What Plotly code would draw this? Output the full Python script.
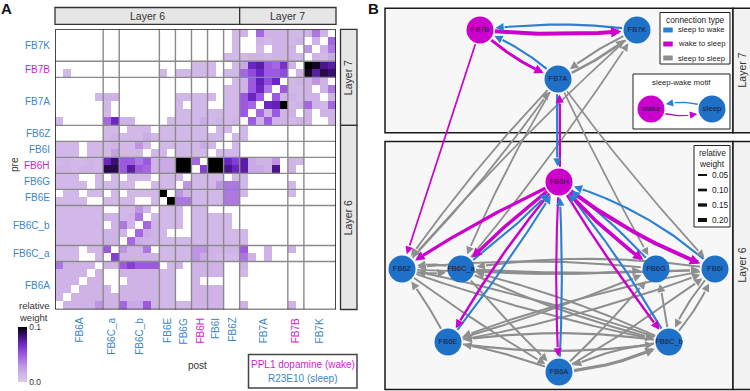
import numpy as np
import plotly.graph_objects as go

W, H = 750, 391
FONT = "Liberation Sans, Arial, sans-serif"
BLUE_TXT = "#3b87c9"
MAG_TXT = "#d11cd1"
NODE_BLUE = "#1f70c7"
NODE_MAG = "#cc00cc"
EDGE_BLUE = "#2b80d0"
EDGE_MAG = "#cc00cc"
EDGE_GRAY = "#8e8e8e"

# ---------------- data: panel A ----------------
post_groups = ["FB6A", "FB6C_a", "FB6C_b", "FB6E", "FB6G", "FB6H", "FB6I", "FB6Z", "FB7A", "FB7B", "FB7K"]
group_sizes = [6, 2, 5, 2, 2, 2, 2, 2, 6, 2, 4]
wake_types = ["FB6H", "FB7B"]
pre_groups = post_groups[::-1]
pre_sizes = group_sizes[::-1]

# relative weight x 1000 (0 = no connection); columns follow post_groups order
w_FB7K = [
    [0,0,0,0,0,0, 0,0, 0,0,0,0,0, 0,0, 0,0, 0,0, 0,0, 0,12, 15,0,45,15,15,15, 12,12, 15,40,15,0],
    [0,0,0,0,0,0, 0,0, 0,0,0,0,0, 0,0, 0,0, 0,0, 0,0, 0,12, 0,0,15,12,15,15, 12,15, 0,15,0,45],
    [0,0,0,0,0,0, 0,0, 0,0,0,0,0, 0,0, 0,0, 0,0, 0,0, 0,12, 0,0,12,0,15,15, 15,0, 30,0,15,40],
    [0,0,0,0,0,0, 0,0, 0,0,0,0,0, 0,0, 0,0, 0,0, 0,0, 12,12, 12,15,15,12,15,15, 15,12, 0,15,12,20],
]
w_FB7B = [
    [0,0,0,0,0,0, 0,0, 0,0,0,0,0, 0,0, 0,0, 12,12, 12,0, 0,12, 20,70,75,50,45,65, 15,0, 100,95,80,75],
    [0,12,0,0,0,0, 0,0, 0,0,0,0,0, 12,0, 12,12, 12,12, 12,0, 12,12, 45,55,70,50,50,55, 0,15, 95,75,90,85],
]
w_FB7A = [
    [0,0,0,0,0,0, 0,0, 0,0,0,0,0, 0,0, 0,0, 0,0, 0,0, 0,12, 15,50,72,55,70,0, 12,15, 15,30,15,0],
    [0,0,0,0,0,0, 0,0, 0,0,0,0,0, 0,0, 0,0, 0,0, 0,0, 12,12, 15,50,70,40,0,50, 12,12, 15,0,15,40],
    [0,0,0,0,0,12, 15,15, 0,0,0,0,0, 0,0, 12,12, 12,12, 12,0, 12,12, 50,70,50,0,50,15, 15,12, 15,15,0,15],
    [0,0,0,0,0,0, 12,0, 0,0,0,0,0, 0,0, 12,0, 12,12, 0,0, 12,12, 50,45,0,70,72,100, 12,15, 45,15,12,45],
    [0,0,0,0,0,0, 12,0, 0,0,0,0,0, 0,0, 12,12, 12,12, 12,12, 12,12, 50,0,45,15,50,15, 15,0, 15,0,15,15],
    [12,0,0,0,0,0, 45,70, 15,15,0,0,0, 0,12, 12,12, 12,18, 12,15, 12,15, 0,50,15,50,15,15, 12,15, 15,0,0,15],
]
w_FB6Z = [
    [0,0,0,0,0,0, 12,12, 0,12,12,12,0, 12,12, 12,12, 12,12, 0,12, 12,0, 12,0,0,0,0,0, 0,0, 0,0,0,0],
    [0,0,0,0,0,0, 12,15, 12,12,12,18,12, 12,12, 12,12, 12,12, 12,12, 0,12, 12,0,0,0,0,0, 0,0, 0,0,0,0],
]
w_FB6I = [
    [12,12,12,0,12,12, 12,15, 12,12,30,12,0, 12,12, 12,12, 12,20, 12,0, 0,12, 0,0,0,0,0,0, 0,0, 0,0,0,0],
    [12,12,12,0,12,12, 12,25, 12,12,12,0,12, 12,0, 12,12, 12,12, 0,12, 12,12, 0,0,0,0,0,0, 0,0, 0,0,0,0],
]
w_FB6H = [
    [12,15,12,12,15,12, 70,85, 50,50,40,50,15, 20,20, 100,100, 45,0, 100,100, 70,60, 75,20,15,15,30,0, 15,12, 0,0,0,0],
    [15,15,12,15,15,12, 90,90, 50,75,50,45,15, 20,20, 100,100, 0,60, 100,100, 80,70, 75,20,20,15,80,0, 15,0, 0,0,0,0],
]
w_FB6G = [
    [12,12,12,0,0,12, 0,12, 0,12,12,12,0, 12,12, 12,0, 12,12, 12,12, 0,12, 12,0,0,0,0,0, 0,0, 0,0,0,0],
    [12,12,12,12,0,12, 12,12, 12,12,0,0,12, 12,12, 0,30, 12,12, 12,30, 40,40, 12,0,0,0,0,0, 12,0, 0,0,0,0],
]
w_FB6E = [
    [0,12,12,0,12,12, 0,12, 0,12,12,12,12, 100,0, 30,15, 12,12, 12,12, 40,40, 12,0,0,0,0,0, 12,0, 0,0,0,0],
    [12,12,12,12,0,0, 12,12, 12,12,0,0,12, 0,100, 40,40, 12,12, 12,12, 40,40, 0,0,0,0,0,0, 0,0, 0,0,0,0],
]
w_FB6C_b = [
    [12,12,12,12,12,12, 0,0, 12,12,30,12,0, 12,12, 12,0, 12,12, 0,0, 0,0, 0,0,0,0,0,0, 0,0, 0,0,0,0],
    [12,12,12,12,12,12, 15,15, 12,15,40,0,12, 12,12, 12,0, 12,12, 12,12, 12,0, 0,0,0,0,0,0, 0,0, 0,0,0,0],
    [12,12,12,12,12,12, 0,15, 40,15,0,45,15, 12,12, 12,0, 12,12, 12,12, 12,0, 0,0,0,0,0,0, 0,0, 0,0,0,0],
    [12,12,12,12,12,12, 15,15, 15,0,45,18,15, 12,0, 0,0, 12,12, 12,12, 12,12, 12,0,0,0,0,0, 0,0, 0,0,0,0],
    [12,12,12,12,12,12, 15,15, 0,45,18,15,15, 12,12, 12,12, 12,12, 12,12, 12,12, 12,0,0,0,0,0, 0,0, 0,0,0,0],
]
w_FB6C_a = [
    [12,12,12,0,12,12, 50,0, 30,15,15,40,0, 12,12, 12,12, 30,30, 15,15, 15,15, 50,0,0,15,0,0, 15,0, 0,0,0,0],
    [12,12,12,0,0,12, 0,60, 15,15,15,15,15, 12,12, 12,12, 30,20, 15,12, 12,12, 40,15,0,15,0,0, 0,0, 0,0,0,0],
]
w_FB6A = [
    [40,15,15,15,15,0, 15,15, 50,60,50,50,50, 0,12, 15,0, 15,15, 15,15, 0,0, 15,0,0,0,0,0, 0,0, 0,0,0,0],
    [15,15,15,15,0,15, 0,0, 15,15,15,15,15, 12,12, 0,0, 15,15, 15,15, 0,0, 12,0,0,0,0,0, 0,0, 0,0,0,0],
    [15,15,15,0,15,15, 0,0, 0,15,15,15,15, 12,12, 0,0, 15,0, 0,0, 0,0, 0,0,0,0,0,0, 0,0, 0,0,0,0],
    [15,15,0,15,15,15, 15,0, 15,15,15,15,15, 12,12, 0,0, 15,15, 15,15, 0,0, 0,0,0,0,0,0, 0,0, 0,0,0,0],
    [15,0,15,15,15,15, 15,15, 15,15,15,15,15, 12,12, 0,0, 15,15, 15,15, 0,0, 0,0,0,0,0,0, 0,0, 0,0,0,0],
    [0,15,15,15,15,30, 15,15, 45,20,20,50,15, 12,12, 12,12, 15,15, 15,15, 0,0, 15,0,0,0,0,0, 15,0, 0,0,0,0],
]

# ---------------- data: panel B ----------------
nodes = ["FB7B", "FB7K", "FB7A", "FB6H", "FB6Z", "FB6C_a", "FB6G", "FB6I", "FB6E", "FB6C_b", "FB6A"]
node_x = [480, 637, 558, 559, 402, 461, 656, 715, 448, 669, 559]
node_y = [30, 30, 79, 182, 269, 269, 269, 269, 342, 342, 372]

edge_src = ["FB7K", "FB7B", "FB7B", "FB7A", "FB7A", "FB7K", "FB7A", "FB6H", "FB7B",
            "FB7A", "FB7K", "FB7A", "FB6Z", "FB6C_a", "FB7A", "FB7A",
            "FB6H", "FB6H", "FB6H", "FB6H", "FB6H", "FB6H", "FB6H",
            "FB6C_a", "FB6E", "FB6A", "FB6C_b", "FB6G", "FB6I",
            "FB6Z", "FB6C_a", "FB6I", "FB6G", "FB6Z", "FB6C_a", "FB6C_a", "FB6E", "FB6Z", "FB6C_b",
            "FB6C_a", "FB6C_b", "FB6C_a", "FB6E", "FB6C_b", "FB6A", "FB6A", "FB6C_b", "FB6A", "FB6A",
            "FB6E", "FB6I", "FB6E", "FB6I", "FB6C_b", "FB6C_b", "FB6Z"]
edge_dst = ["FB7B", "FB7K", "FB7A", "FB7B", "FB7K", "FB7A", "FB6H", "FB7A", "FB6Z",
            "FB6Z", "FB6Z", "FB6C_a", "FB7A", "FB7K", "FB6G", "FB6I",
            "FB6Z", "FB6C_a", "FB6G", "FB6I", "FB6E", "FB6A", "FB6C_b",
            "FB6H", "FB6H", "FB6H", "FB6H", "FB6H", "FB6H",
            "FB6C_a", "FB6Z", "FB6C_a", "FB6Z", "FB6I", "FB6I", "FB6G", "FB6Z", "FB6C_b", "FB6Z",
            "FB6C_b", "FB6C_a", "FB6A", "FB6C_b", "FB6E", "FB6E", "FB6C_b", "FB6A", "FB6I", "FB6G",
            "FB6I", "FB6E", "FB6G", "FB6C_b", "FB6I", "FB6G", "FB6A"]
edge_weight = [0.06, 0.20, 0.12, 0.06, 0.10, 0.06, 0.06, 0.07, 0.03,
               0.04, 0.03, 0.04, 0.04, 0.03, 0.03, 0.03,
               0.14, 0.16, 0.17, 0.20, 0.09, 0.06, 0.08,
               0.06, 0.06, 0.06, 0.06, 0.06, 0.06,
               0.07, 0.06, 0.06, 0.05, 0.05, 0.06, 0.05, 0.05, 0.05, 0.05,
               0.06, 0.05, 0.05, 0.07, 0.07, 0.06, 0.14, 0.06, 0.05, 0.05,
               0.05, 0.05, 0.05, 0.05, 0.05, 0.05, 0.05]
edge_bend = [0.07, 0.05, 0.10, 0.10, 0.08, 0.08, 0.04, 0.04, 0.00,
             0.04, 0.03, 0.04, 0.04, 0.03, 0.02, 0.03,
             0.04, 0.04, 0.07, 0.08, 0.05, 0.03, 0.03,
             0.05, 0.03, 0.03, 0.05, 0.06, 0.12,
             0.15, 0.15, 0.08, 0.06, 0.03, 0.03, 0.05, 0.05, 0.04, 0.04,
             0.05, 0.05, 0.03, 0.08, 0.08, 0.06, 0.10, 0.10, 0.03, 0.03,
             0.05, 0.05, 0.03, 0.10, 0.10, 0.04, 0.03]

conn_types = ["sleep to wake", "wake to sleep", "sleep to sleep"]
legend_weights = [0.05, 0.10, 0.15, 0.20]

# ---------------- helpers ----------------
def px(x):
    return x / W


def py(y):
    return 1 - y / H


annotations = []
shapes = []


def txt(x, y, s, size=10, color="#222222", xa="center", ya="middle", angle=0, bold=False):
    annotations.append(dict(
        x=px(x), y=py(y), xref="paper", yref="paper", text=("<b>%s</b>" % s if bold else s),
        showarrow=False, xanchor=xa, yanchor=ya, textangle=angle,
        font=dict(family=FONT, size=size, color=color)))


def box(x0, y0, x1, y1, fill="rgba(0,0,0,0)", line="#222222", lw=1.2, layer="below"):
    shapes.append(dict(type="rect", xref="paper", yref="paper",
                       x0=px(x0), x1=px(x1), y0=py(y1), y1=py(y0),
                       fillcolor=fill, line=dict(color=line, width=lw), layer=layer))


def width_of(w):
    return 1.3 + 13.5 * w


def is_wake(n):
    return n in wake_types or n == "wake"


def edge_color(s, d):
    if not is_wake(s) and is_wake(d):
        return EDGE_BLUE
    if is_wake(s) and not is_wake(d):
        return EDGE_MAG
    return EDGE_GRAY


# ---------------- figure ----------------
fig = go.Figure()

Z = np.array(w_FB7K + w_FB7B + w_FB7A + w_FB6Z + w_FB6I + w_FB6H + w_FB6G + w_FB6E +
             w_FB6C_b + w_FB6C_a + w_FB6A, dtype=float)
assert Z.shape == (35, 35), Z.shape
Z = np.where(Z > 0, Z / 1000.0, np.nan)
ncell = Z.shape[0]

colorscale = [[0.0, "#dccbec"], [0.15, "#cfb3e7"], [0.3, "#bd95e3"], [0.5, "#9c58e0"],
              [0.7, "#6c24c2"], [0.85, "#3a0f70"], [1.0, "#000000"]]

fig.add_trace(go.Heatmap(
    z=Z, x=list(range(ncell)), y=list(range(ncell)), zmin=0, zmax=0.1,
    colorscale=colorscale, hoverinfo="skip", xaxis="x", yaxis="y",
    colorbar=dict(x=px(18), xanchor="left", y=py(327), yanchor="top", len=55, lenmode="pixels",
                  thickness=9, thicknessmode="pixels", xpad=0, ypad=0, outlinewidth=0,
                  tickvals=[0, 0.1], ticktext=["0.0", "0.1"], ticks="",
                  tickfont=dict(family=FONT, size=8.5, color="#333333"))))

# heatmap frame geometry
HX0, HX1, HY0, HY1 = 55.0, 336.0, 29.3, 309.5
cw = (HX1 - HX0) / ncell
ch = (HY1 - HY0) / ncell

# group separators
cum = np.cumsum(group_sizes)[:-1]
for c in cum:
    shapes.append(dict(type="line", xref="x", yref="y", x0=c - 0.5, x1=c - 0.5, y0=-0.5, y1=ncell - 0.5,
                       line=dict(color="#8a8a8a", width=1.4), layer="above"))
cum_r = np.cumsum(pre_sizes)[:-1]
for r in cum_r:
    shapes.append(dict(type="line", xref="x", yref="y", y0=r - 0.5, y1=r - 0.5, x0=-0.5, x1=ncell - 0.5,
                       line=dict(color="#8a8a8a", width=1.4), layer="above"))
shapes.append(dict(type="rect", xref="x", yref="y", x0=-0.5, x1=ncell - 0.5, y0=-0.5, y1=ncell - 0.5,
                   line=dict(color="#1a1a1a", width=1.6), layer="above"))

# row labels
start = 0
for g, n in zip(pre_groups, pre_sizes):
    yc = HY0 + (start + n / 2) * ch
    txt(52, yc, g, size=10, color=MAG_TXT if g in wake_types else BLUE_TXT, xa="right")
    start += n
# column labels
start = 0
for g, n in zip(post_groups, group_sizes):
    xc = HX0 + (start + n / 2) * cw
    txt(xc, 316, g, size=10, color=MAG_TXT if g in wake_types else BLUE_TXT, ya="top", angle=-90)
    start += n

# strips panel A
n_l6 = sum(s for g, s in zip(post_groups, group_sizes) if g.startswith("FB6"))
xdiv = HX0 + n_l6 * cw
box(HX0, 7.5, xdiv, 24.3, fill="#e6e6e6", line="#333333", lw=1.3)
box(xdiv, 7.5, HX1, 24.3, fill="#e6e6e6", line="#333333", lw=1.3)
txt((HX0 + xdiv) / 2, 16, "Layer 6", size=10.5, color="#333333")
txt((xdiv + HX1) / 2, 16, "Layer 7", size=10.5, color="#333333")
n_l7 = sum(s for g, s in zip(pre_groups, pre_sizes) if g.startswith("FB7"))
ydiv = HY0 + n_l7 * ch
box(340.5, HY0, 357, ydiv, fill="#e6e6e6", line="#333333", lw=1.3)
box(340.5, ydiv, 357, HY1, fill="#e6e6e6", line="#333333", lw=1.3)
txt(348.8, (HY0 + ydiv) / 2, "Layer 7", size=10.5, color="#333333", angle=-90)
txt(348.8, (ydiv + HY1) / 2, "Layer 6", size=10.5, color="#333333", angle=-90)

txt(6, 9, "A", size=15, color="#111111", bold=True)
txt(14, 165, "pre", size=10, color="#333333", angle=-90)
txt(197, 365, "post", size=10, color="#333333")
txt(17, 305, "relative", size=9.5, color="#333333", xa="left")
txt(17, 317, "weight", size=9.5, color="#333333", xa="left")
box(248.5, 354.5, 357, 388, fill="white", line="#444444", lw=1.5)
txt(302.5, 364.5, "PPL1 dopamine (wake)", size=10, color=MAG_TXT)
txt(302.5, 378.5, "R23E10 (sleep)", size=10, color=BLUE_TXT)

# ---------------- panel B ----------------
box(385, 8.3, 733, 132.7, fill="#f7f7f7", line="#1a1a1a", lw=1.5)
box(733, 8.3, 751, 132.7, fill="#f2f2f2", line="#1a1a1a", lw=1.5)
box(385, 141.5, 733, 389.5, fill="#f7f7f7", line="#1a1a1a", lw=1.5)
box(733, 141.5, 751, 389.5, fill="#f2f2f2", line="#1a1a1a", lw=1.5)
txt(741.5, 70, "Layer 7", size=10.5, color="#333333", angle=-90)
txt(741.5, 265, "Layer 6", size=10.5, color="#333333", angle=-90)
txt(373, 9, "B", size=15, color="#111111", bold=True)

RN = 13.5
pos = {n: (x, y) for n, x, y in zip(nodes, node_x, node_y)}


def draw_edge(p0, p1, bend, w, color):
    x0, y0 = p0
    x1, y1 = p1
    dx, dy = x1 - x0, y1 - y0
    L = np.hypot(dx, dy)
    nx, ny = -dy / L, dx / L
    cx = (x0 + x1) / 2 + bend * L * nx
    cy = (y0 + y1) / 2 + bend * L * ny
    t = np.linspace(0, 1, 600)
    bx = (1 - t) ** 2 * x0 + 2 * (1 - t) * t * cx + t ** 2 * x1
    by = (1 - t) ** 2 * y0 + 2 * (1 - t) * t * cy + t ** 2 * y1
    d0 = np.hypot(bx - x0, by - y0)
    d1 = np.hypot(bx - x1, by - y1)
    keep = (d0 >= RN + 1.5) & (d1 >= RN + 2.0)
    bx, by = bx[keep], by[keep]
    hx, hy = bx[-1], by[-1]
    dh = np.hypot(bx - hx, by - hy)
    tail_idx = np.where(dh >= 9)[0][-1]
    fig.add_trace(go.Scatter(x=bx[:tail_idx + 1], y=by[:tail_idx + 1], mode="lines",
                             line=dict(color=color, width=w), hoverinfo="skip",
                             xaxis="x2", yaxis="y2"))
    annotations.append(dict(x=hx, y=hy, ax=bx[tail_idx], ay=by[tail_idx], xref="x2", yref="y2",
                            axref="x2", ayref="y2", showarrow=True, arrowhead=2, text="",
                            arrowwidth=w, arrowcolor=color,
                            arrowsize=min(1.15, (4.8 + w) / (4.2 * w))))


order = {EDGE_GRAY: 0, EDGE_BLUE: 1, EDGE_MAG: 2}
edges = list(zip(edge_src, edge_dst, edge_weight, edge_bend))
edges.sort(key=lambda e: order[edge_color(e[0], e[1])])
for s, d, wgt, b in edges:
    draw_edge(pos[s], pos[d], b, width_of(wgt), edge_color(s, d))

fig.add_trace(go.Scatter(
    x=node_x, y=node_y, mode="markers+text", text=nodes, textposition="middle center",
    textfont=dict(family=FONT, size=7.5, color="#1c1c3a"),
    marker=dict(size=2 * RN, color=[NODE_MAG if n in wake_types else NODE_BLUE for n in nodes],
                line=dict(width=0)),
    hoverinfo="skip", xaxis="x2", yaxis="y2"))

# connection type legend
box(660, 12.5, 730, 64, fill="white", line="#222222", lw=1.0)
txt(695, 19.5, "connection type", size=8.3, color="#222222")
for i, (ct, col) in enumerate(zip(conn_types, [EDGE_BLUE, EDGE_MAG, EDGE_GRAY])):
    yy = 30 + 14 * i
    box(663.5, yy - 2.2, 672.5, yy + 2.2, fill=col, line=col, lw=0.5, layer="above")
    txt(675.5, yy, ct, size=7.6, color="#222222", xa="left")

# sleep-wake motif legend
box(633, 74, 730, 129, fill="white", line="#222222", lw=1.0)
txt(681.5, 82.5, "sleep-wake motif", size=7.8, color="#222222")
motif_nodes = ["wake", "sleep"]
motif_x = [651, 712]
motif_y = [109, 109]
mpos = {n: (x, y) for n, x, y in zip(motif_nodes, motif_x, motif_y)}
draw_edge(mpos["sleep"], mpos["wake"], 0.22, 1.4, EDGE_BLUE)
draw_edge(mpos["wake"], mpos["sleep"], 0.22, 1.4, EDGE_MAG)
fig.add_trace(go.Scatter(
    x=motif_x, y=motif_y, mode="markers+text", text=motif_nodes, textposition="middle center",
    textfont=dict(family=FONT, size=8, color="#1c1c3a"),
    marker=dict(size=2 * RN, color=[NODE_MAG, NODE_BLUE], line=dict(width=0)),
    hoverinfo="skip", xaxis="x2", yaxis="y2"))

# relative weight legend
box(694, 145.5, 730, 227, fill="white", line="#222222", lw=1.0)
txt(697, 153, "relative", size=8.3, color="#222222", xa="left")
txt(697, 164, "weight", size=8.3, color="#222222", xa="left")
for i, lw_ in enumerate(legend_weights):
    yy = 175 + 15 * i
    shapes.append(dict(type="line", xref="paper", yref="paper", x0=px(698), x1=px(707),
                       y0=py(yy), y1=py(yy), line=dict(color="#111111", width=width_of(lw_)), layer="above"))
    txt(709.5, yy, "%.2f" % lw_, size=8.3, color="#222222", xa="left")

fig.update_layout(
    width=W, height=H, margin=dict(l=0, r=0, t=0, b=0),
    paper_bgcolor="white", plot_bgcolor="rgba(0,0,0,0)", showlegend=False,
    xaxis=dict(domain=[px(HX0), px(HX1)], range=[-0.5, ncell - 0.5], visible=False, fixedrange=True),
    yaxis=dict(domain=[py(HY1), py(HY0)], range=[ncell - 0.5, -0.5], visible=False, fixedrange=True),
    xaxis2=dict(domain=[0, 1], range=[0, W], visible=False, anchor="y2", fixedrange=True),
    yaxis2=dict(domain=[0, 1], range=[H, 0], visible=False, anchor="x2", fixedrange=True),
    shapes=shapes, annotations=annotations,
)

fig.write_html("out.html", config={"displayModeBar": False},
               post_script="document.body.style.margin='0';document.body.style.overflow='hidden';")
